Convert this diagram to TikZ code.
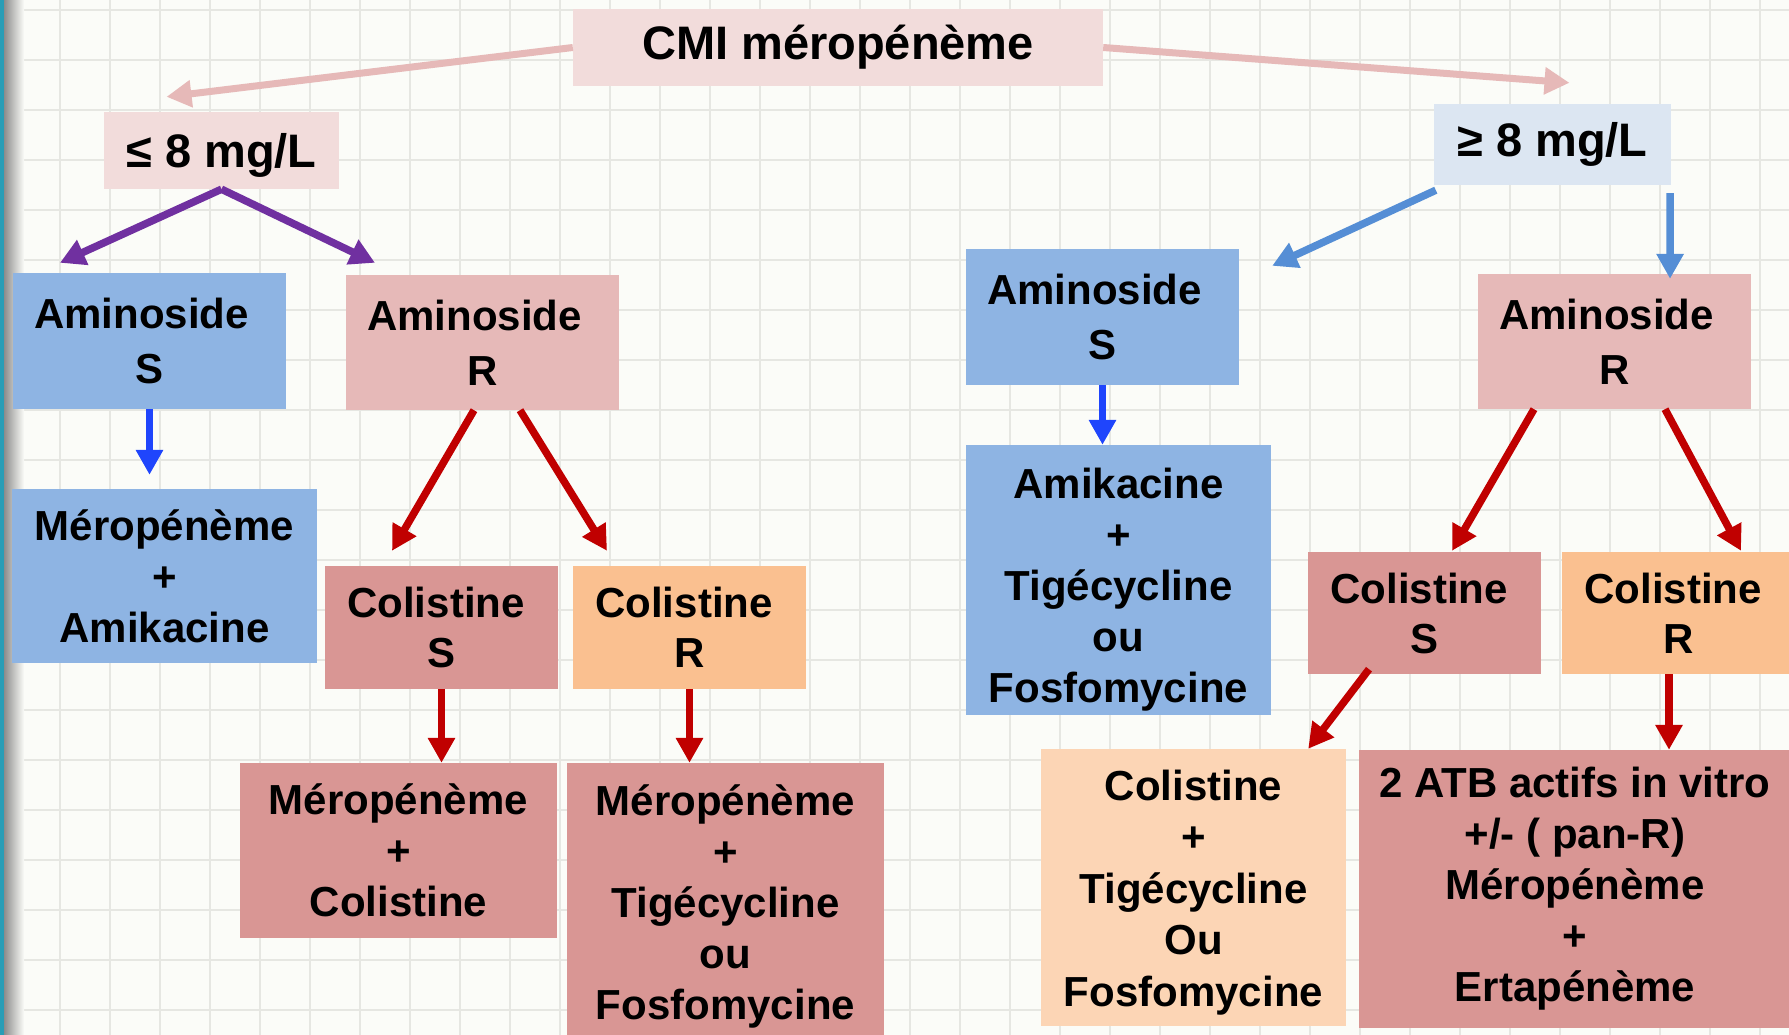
\documentclass[tikz,border=0pt]{standalone}
\usepackage{fontspec}
\setmainfont{Liberation Sans}
\usetikzlibrary{arrows.meta,calc}
\definecolor{bgc}{HTML}{FBFCF8}
\definecolor{gridc}{HTML}{E6E7E2}
\definecolor{stripc}{HTML}{2A9DB6}
\definecolor{pinkL}{HTML}{F2DCDB}
\definecolor{blueL}{HTML}{DCE6F2}
\definecolor{blueM}{HTML}{8EB4E3}
\definecolor{pinkM}{HTML}{E6B9B8}
\definecolor{pinkD}{HTML}{D99694}
\definecolor{orangeM}{HTML}{FAC090}
\definecolor{peach}{HTML}{FCD5B5}
\definecolor{arrPink}{HTML}{E6B9B8}
\definecolor{arrPurple}{HTML}{7030A0}
\definecolor{arrBlueA}{HTML}{558ED5}
\definecolor{arrBlueB}{HTML}{1F45FC}
\definecolor{arrRed}{HTML}{C00000}
\begin{document}
\begin{tikzpicture}[x=1pt,y=-1pt,
  box/.style={rectangle, inner sep=0pt, align=center, text=black,
    font=\fontsize{42}{51}\selectfont\bfseries},
  amibox/.style={box, font=\fontsize{42}{55}\selectfont\bfseries, minimum width=273pt},
  colbox/.style={box, font=\fontsize{42}{50}\selectfont\bfseries, minimum width=233pt},
  headbox/.style={box, font=\fontsize{47}{56}\selectfont\bfseries},
  conn/.style={line width=7.5pt, -{Triangle[length=25pt,width=26pt]}},
  pinkarr/.style={conn, line width=7pt, draw=arrPink},
  purparr/.style={conn, draw=arrPurple},
  bluearrA/.style={conn, draw=arrBlueA},
  bluearrB/.style={conn, draw=arrBlueB},
  redarr/.style={conn, draw=arrRed}
]
\useasboundingbox (0,0) rectangle (1789,1035);
\clip (0,0) rectangle (1789,1035);
% background and grid
\fill[bgc] (0,0) rectangle (1789,1035);
\foreach \gx in {10,60,...,1760} \draw[gridc, line width=1.5pt] (\gx,0) -- (\gx,1035);
\foreach \gy in {10,60,...,1010} \draw[gridc, line width=1.5pt] (0,\gy) -- (1789,\gy);
\shade[left color=black!45, right color=bgc] (4,0) rectangle (24,1035);
\fill[stripc] (0,0) rectangle (4,1035);

% header
\node[headbox, fill=pinkL, minimum width=530pt, minimum height=77pt] (cmi) at (838,47.5) {CMI méropénème};
\node[headbox, fill=pinkL, minimum width=235pt, minimum height=77pt] (le8) at (221.5,150.5) {\rule{0pt}{43pt}≤ 8 mg/L};
\node[headbox, fill=blueL, minimum width=237pt, minimum height=81pt] (ge8) at (1552.5,144.5) {≥ 8 mg/L};

% left branch
\node[amibox, fill=blueM, minimum height=136pt] (amsL) at (149.5,341) {Aminoside\hspace*{16pt}\\S};
\node[amibox, fill=pinkM, minimum height=135pt] (amrL) at (482.5,342.5) {Aminoside\hspace*{16pt}\\R};
\node[box, fill=blueM, minimum width=305pt, minimum height=174pt] (merAmi) at (164.5,576) {Méropénème\\+\\Amikacine};
\node[colbox, fill=pinkD, minimum height=123pt] (colSL) at (441.5,627.5) {Colistine\hspace*{11pt}\\S};
\node[colbox, fill=orangeM, minimum height=123pt] (colRL) at (689.5,627.5) {Colistine\hspace*{11pt}\\R};
\node[box, fill=pinkD, minimum width=317pt, minimum height=175pt] (merCol) at (398.5,850.5) {Méropénème\\+\\Colistine};
\node[box, fill=pinkD, minimum width=317pt, minimum height=286pt] (merTig) at (725.5,906) {Méropénème\\+\\Tigécycline\\ou\\Fosfomycine};

% right branch
\node[amibox, fill=blueM, minimum height=136pt] (amsR) at (1102.5,317) {Aminoside\hspace*{16pt}\\S};
\node[box, fill=blueM, minimum width=305pt, minimum height=270pt] (amiTig) at (1118.5,580) {\rule{0pt}{49pt}Amikacine\\+\\Tigécycline\\ou\\Fosfomycine};
\node[amibox, fill=pinkM, minimum height=135pt] (amrR) at (1614.5,341.5) {Aminoside\hspace*{16pt}\\R};
\node[colbox, fill=pinkD, minimum height=122pt] (colSR) at (1424.5,613) {Colistine\hspace*{11pt}\\S};
\node[colbox, fill=orangeM, minimum height=122pt] (colRR) at (1678.5,613) {Colistine\hspace*{11pt}\\R};
\node[box, fill=peach, minimum width=305pt, minimum height=277pt, font=\fontsize{42}{51.5}\selectfont\bfseries] (colTig) at (1193.5,887.5) {\rule{0pt}{40pt}Colistine\\+\\Tigécycline\\Ou\\Fosfomycine};
\node[box, fill=pinkD, minimum width=432pt, minimum height=278pt] (atb) at (1575,889) {2 ATB actifs in vitro\\+/- ( pan-R)\\Méropénème\\+\\Ertapénème};

% connectors
\draw[pinkarr] (cmi.west) -- ($(le8.north)+(-55,-15)$);
\draw[pinkarr] (cmi.east) -- ($(ge8.north)+(17,-21)$);
\draw[purparr] (le8.south) -- ($(amsL.north)+(-89.5,-10)$);
\draw[purparr] (le8.south) -- ($(amrL.north)+(-107.5,-12)$);
\draw[bluearrA] ($(ge8.south west)+(2,5)$) -- ($(amsR.north east)+(33,17)$);
\draw[bluearrA] ($(ge8.south east)+(-1,8)$) -- ($(amrR.north)+(55.5,5)$);
\draw[bluearrB] (amsL.south) -- ($(amsL.south |- merAmi.north)+(0,-14)$);
\draw[bluearrB] (amsR.south) -- (amsR.south |- amiTig.north);
\draw[redarr] ($(amrL.south)+(-8.5,0)$) -- ($(colSL.north)+(-49.5,-15)$);
\draw[redarr] ($(amrL.south)+(37.5,0)$) -- ($(colRL.north)+(-82.5,-15)$);
\draw[redarr] (colSL.south) -- (colSL.south |- merCol.north);
\draw[redarr] (colRL.south) -- (colRL.south |- merTig.north);
\draw[redarr] ($(amrR.south)+(-80.5,0)$) -- ($(colSR.north)+(27.5,-1)$);
\draw[redarr] ($(amrR.south)+(50.5,0)$) -- ($(colRR.north)+(62.5,-1)$);
\draw[redarr] ($(colSR.south)+(-55.5,-5)$) -- ($(colTig.north east)+(-38,0)$);
\draw[redarr] ($(colRR.south)+(-9.5,0)$) -- ($(colRR.south |- atb.north)+(-9.5,0)$);
\end{tikzpicture}
\end{document}
